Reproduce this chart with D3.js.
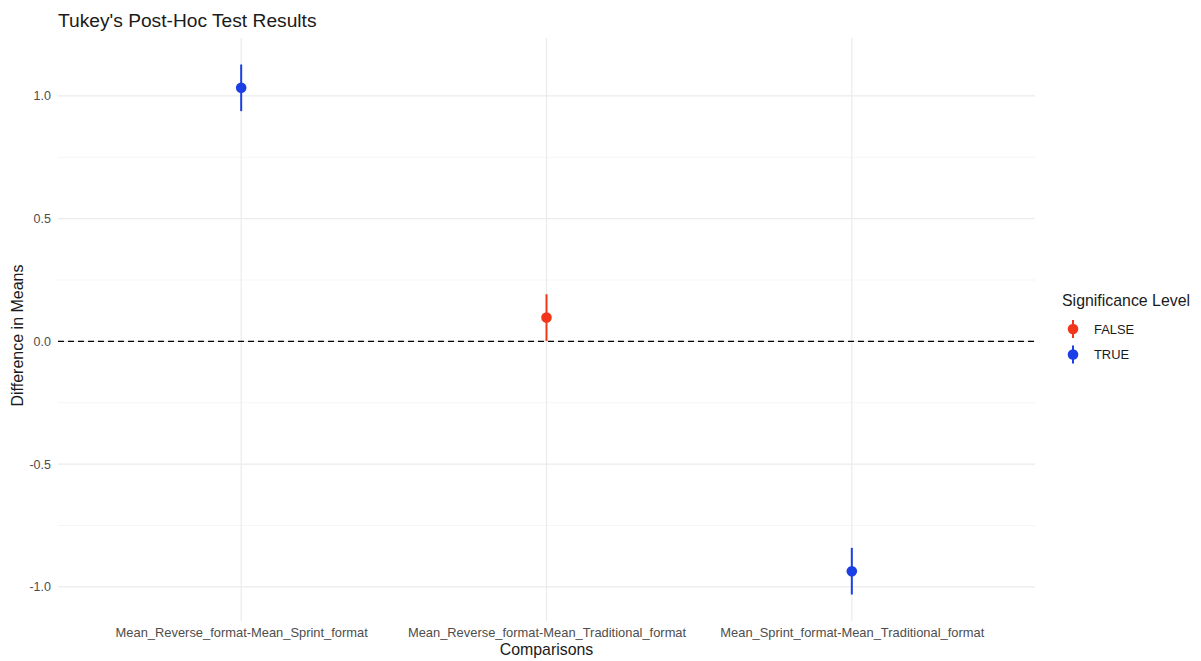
<!DOCTYPE html>
<html>
<head>
<meta charset="utf-8">
<script src="https://cdn.jsdelivr.net/npm/d3@7"></script>
<style>
  body { margin: 0; background: #fff; }
  svg { display: block; font-family: "Liberation Sans", Arial, Helvetica, sans-serif; }
</style>
</head>
<body>
<svg id="chart" width="1201" height="661"></svg>
<script>
// Tukey HSD comparisons: estimated difference and 95% family-wise interval
const comparisons = [
  "Mean_Reverse_format-Mean_Sprint_format",
  "Mean_Reverse_format-Mean_Traditional_format",
  "Mean_Sprint_format-Mean_Traditional_format"
];
const diffs = [1.033, 0.097, -0.936];
const lower = [0.938, 0.002, -1.031];
const upper = [1.128, 0.192, -0.841];
const significant = ["TRUE", "FALSE", "TRUE"];

const levels = ["FALSE", "TRUE"];
const levelColors = ["#F2361C", "#1B3FE6"];
const yTicks = [-1.0, -0.5, 0.0, 0.5, 1.0];
const yMinor = [-0.75, -0.25, 0.25, 0.75];

const rows = comparisons.map((c, i) => ({
  comparison: c, diff: diffs[i], lwr: lower[i], upr: upper[i], sig: significant[i]
}));

const svg = d3.select("#chart");
const panel = { left: 58, right: 1035, top: 38, bottom: 621 };

// Discrete x with ggplot-style 0.6 unit expansion on both sides
const x = d3.scalePoint().domain(comparisons)
  .range([panel.left, panel.right]).padding(0.6);

// Continuous y with 5% expansion of the data range
const yLo = d3.min(lower), yHi = d3.max(upper);
const pad = (yHi - yLo) * 0.05;
const y = d3.scaleLinear().domain([yLo - pad, yHi + pad])
  .range([panel.bottom, panel.top]);

const color = d3.scaleOrdinal().domain(levels).range(levelColors);

// Grid
const grid = svg.append("g");
grid.selectAll(".minor").data(yMinor).join("line")
  .attr("x1", panel.left).attr("x2", panel.right)
  .attr("y1", d => y(d)).attr("y2", d => y(d))
  .attr("stroke", "#f2f2f2").attr("stroke-width", 0.8);
grid.selectAll(".major").data(yTicks).join("line")
  .attr("x1", panel.left).attr("x2", panel.right)
  .attr("y1", d => y(d)).attr("y2", d => y(d))
  .attr("stroke", "#ebebeb").attr("stroke-width", 1.2);
grid.selectAll(".vmajor").data(comparisons).join("line")
  .attr("x1", d => x(d)).attr("x2", d => x(d))
  .attr("y1", panel.top).attr("y2", panel.bottom)
  .attr("stroke", "#ebebeb").attr("stroke-width", 1.2);

// Reference line at zero difference
svg.append("line")
  .attr("x1", panel.left).attr("x2", panel.right)
  .attr("y1", y(0)).attr("y2", y(0))
  .attr("stroke", "#000").attr("stroke-width", 1.4)
  .attr("stroke-dasharray", "6,4");

// Point ranges
const pr = svg.append("g").selectAll("g").data(rows).join("g");
pr.append("line")
  .attr("x1", d => x(d.comparison)).attr("x2", d => x(d.comparison))
  .attr("y1", d => y(d.lwr)).attr("y2", d => y(d.upr))
  .attr("stroke", d => color(d.sig)).attr("stroke-width", 2);
pr.append("circle")
  .attr("cx", d => x(d.comparison)).attr("cy", d => y(d.diff))
  .attr("r", 5.3).attr("fill", d => color(d.sig));

// Axes (no axis lines, minimal theme)
const yAxis = svg.append("g")
  .attr("transform", `translate(${panel.left},0)`)
  .call(d3.axisLeft(y).tickValues(yTicks).tickSize(0).tickPadding(7));
yAxis.select(".domain").remove();
yAxis.selectAll("text").attr("fill", "#4d4d4d").style("font-size", "12.5px")
  .text(d => d3.format(".1f")(d).replace("\u2212", "-"));

const xAxis = svg.append("g")
  .attr("transform", `translate(0,${panel.bottom})`)
  .call(d3.axisBottom(x).tickSize(0).tickPadding(7));
xAxis.select(".domain").remove();
xAxis.selectAll("text").attr("fill", "#4d4d4d").style("font-size", "12.9px");

// Titles
svg.append("text").attr("x", 58).attr("y", 27)
  .style("font-size", "19.2px").attr("fill", "#1a1a1a")
  .text("Tukey's Post-Hoc Test Results");
svg.append("text").attr("x", (panel.left + panel.right) / 2).attr("y", 655)
  .attr("text-anchor", "middle").style("font-size", "15.9px").attr("fill", "#1a1a1a")
  .text("Comparisons");
svg.append("text")
  .attr("transform", `translate(23,${(panel.top + panel.bottom) / 2 + 6}) rotate(-90)`)
  .attr("text-anchor", "middle").style("font-size", "16px").attr("fill", "#1a1a1a")
  .text("Difference in Means");

// Legend
const legend = svg.append("g").attr("transform", "translate(1062,0)");
legend.append("text").attr("x", 0).attr("y", 306)
  .style("font-size", "15.9px").attr("fill", "#1a1a1a")
  .text("Significance Level");
const keys = legend.selectAll(".key").data(levels).join("g")
  .attr("transform", (d, i) => `translate(11,${329 + i * 25.5})`);
keys.append("line").attr("y1", -9).attr("y2", 9)
  .attr("stroke", d => color(d)).attr("stroke-width", 2);
keys.append("circle").attr("r", 5.3).attr("fill", d => color(d));
keys.append("text").attr("x", 21).attr("y", 4.5)
  .style("font-size", "12.9px").attr("fill", "#1a1a1a").text(d => d);
</script>
</body>
</html>
